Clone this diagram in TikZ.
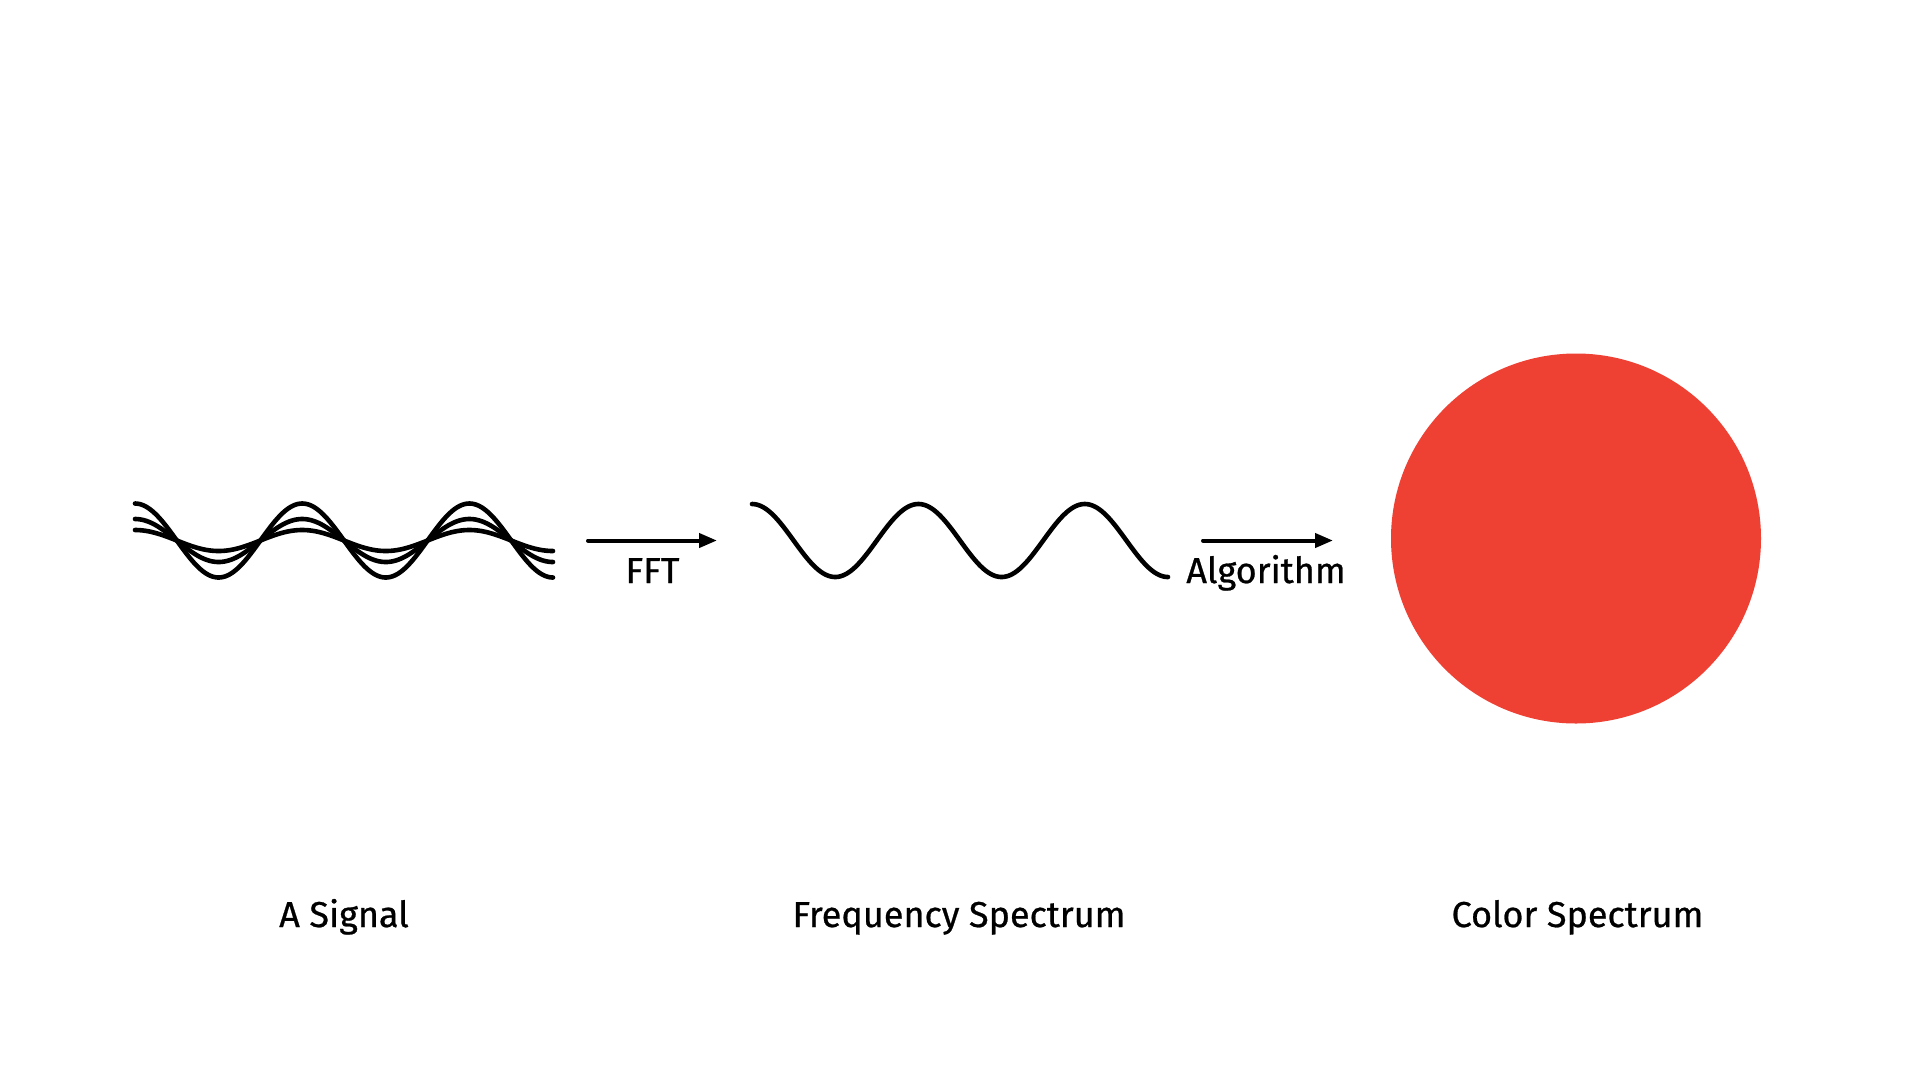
\documentclass[tikz,border=0pt]{standalone}
\usepackage{fontspec}
\setmainfont{Fira Sans}
\newfontfamily\lblfont{Fira Sans}[FakeBold=0.7]
\usetikzlibrary{arrows.meta}
\definecolor{dotred}{RGB}{239,64,52}
\tikzset{
  wave/.style={line width=4.6pt, line cap=round, black},
  flowarrow/.style={line width=4pt, line cap=round, -{Triangle[length=18pt,width=14pt]}},
  lbl/.style={anchor=base, inner sep=0pt, font=\lblfont\fontsize{36}{43}\selectfont},
}
\begin{document}
\begin{tikzpicture}[x=1pt,y=-1pt]
\useasboundingbox[fill=white] (0,0) rectangle (1920,1080);
% signal: three cosine waves
\foreach \a in {37,21.5,10.5}{
  \draw[wave] plot[domain=0:900, samples=241, smooth] ({135+\x/360*167.2},{540.5-\a*cos(\x)});
}
% frequency spectrum wave
\draw[wave] plot[domain=0:900, samples=241, smooth] ({752+\x/360*166.4},{540.5-36.5*cos(\x)});
% colour disc
\fill[dotred] (1576,538.5) circle[radius=185];
% arrows
\coordinate (fftS) at (588,540.5);
\coordinate (fftE) at (717,540.5);
\coordinate (algS) at (1203,540.5);
\coordinate (algE) at (1333,540.5);
\draw[flowarrow] (fftS) -- (fftE);
\draw[flowarrow] (algS) -- (algE);
\node[lbl] (fft) at (652.5,583) {FFT};
\node[lbl] (alg) at (1266,583) {Algorithm};
% captions
\node[lbl] (sig) at (344,927) {A Signal};
\node[lbl] (freq) at (959,927) {Frequency Spectrum};
\node[lbl] (col) at (1577.5,927) {Color Spectrum};
\end{tikzpicture}
\end{document}
